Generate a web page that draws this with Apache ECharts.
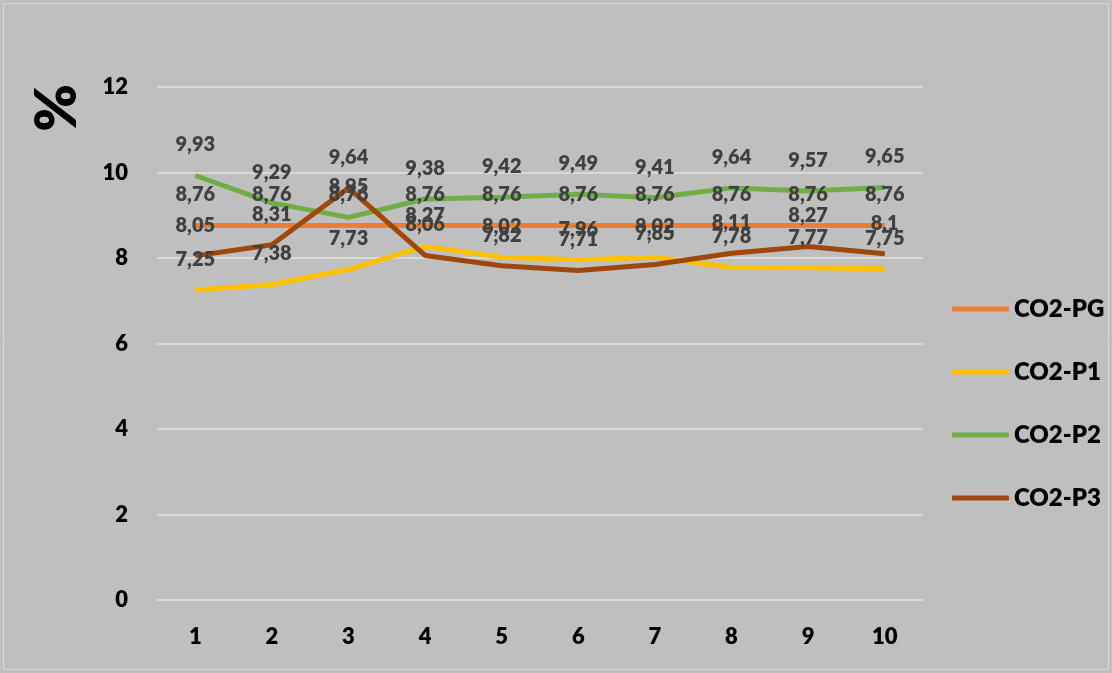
<!DOCTYPE html>
<html>
<head>
<meta charset="utf-8">
<script src="https://cdn.jsdelivr.net/npm/echarts@6/dist/echarts.min.js"></script>
<style>
  html, body { margin: 0; padding: 0; background: #fff; }
  #chart { width: 1112px; height: 673px; }
</style>
</head>
<body>
<div id="chart"></div>
<script>
// data
const categories = ['1', '2', '3', '4', '5', '6', '7', '8', '9', '10'];
const co2PG = [8.76, 8.76, 8.76, 8.76, 8.76, 8.76, 8.76, 8.76, 8.76, 8.76];
const co2P1 = [7.25, 7.38, 7.73, 8.27, 8.02, 7.96, 8.02, 7.78, 7.77, 7.75];
const co2P2 = [9.93, 9.29, 8.95, 9.38, 9.42, 9.49, 9.41, 9.64, 9.57, 9.65];
const co2P3 = [8.05, 8.31, 9.64, 8.06, 7.82, 7.71, 7.85, 8.11, 8.27, 8.1];
const seriesNames = ['CO2-PG', 'CO2-P1', 'CO2-P2', 'CO2-P3'];
const colors = ['#ED7D31', '#FFC000', '#70AD47', '#9E480E'];

const font = 'Lato';
const weight = 800;

function makeLine(name, values) {
    return {
        name: name,
        type: 'line',
        data: values,
        symbol: 'circle',
        symbolSize: 1,
        lineStyle: { width: 5 },
        label: {
            show: true,
            position: 'top',
            distance: 20,
            fontFamily: font,
            fontWeight: weight,
            fontSize: 20,
            color: '#404040',
            formatter: p => String(p.value).replace('.', ',')
        },
        emphasis: { disabled: true }
    };
}

const chart = echarts.init(document.getElementById('chart'));
chart.setOption({
    backgroundColor: '#BFBFBF',
    color: colors,
    animation: false,
    grid: { left: 157, right: 189, top: 87, bottom: 73 },
    graphic: [
        {
            type: 'rect',
            shape: { x: 3.5, y: 3.5, width: 1105, height: 666 },
            style: { fill: 'none', stroke: '#D9D9D9', lineWidth: 1 },
            silent: true
        },
        {
            type: 'text',
            x: 58,
            y: 108,
            rotation: Math.PI / 2,
            style: {
                text: '%',
                fontFamily: font,
                fontWeight: weight,
                fontSize: 57,
                fill: '#000',
                align: 'center',
                verticalAlign: 'middle'
            }
        }
    ],
    legend: {
        orient: 'vertical',
        left: 947,
        top: 292,
        icon: 'roundRect',
        itemWidth: 57,
        itemHeight: 5,
        itemGap: 39,
        data: seriesNames,
        textStyle: {
            fontFamily: font,
            fontWeight: weight,
            fontSize: 24,
            lineHeight: 24,
            color: '#000'
        }
    },
    xAxis: {
        type: 'category',
        data: categories,
        boundaryGap: true,
        axisLine: { lineStyle: { color: '#D9D9D9', width: 2 } },
        axisTick: { show: false },
        axisLabel: {
            margin: 26,
            fontFamily: font,
            fontWeight: weight,
            fontSize: 22,
            color: '#000'
        }
    },
    yAxis: {
        type: 'value',
        min: 0,
        max: 12,
        interval: 2,
        axisLine: { show: false },
        axisTick: { show: false },
        splitLine: { lineStyle: { color: '#D9D9D9', width: 2 } },
        axisLabel: {
            margin: 29,
            fontFamily: font,
            fontWeight: weight,
            fontSize: 22,
            color: '#000'
        }
    },
    series: [
        makeLine(seriesNames[0], co2PG),
        makeLine(seriesNames[1], co2P1),
        makeLine(seriesNames[2], co2P2),
        makeLine(seriesNames[3], co2P3)
    ]
});
</script>
</body>
</html>
